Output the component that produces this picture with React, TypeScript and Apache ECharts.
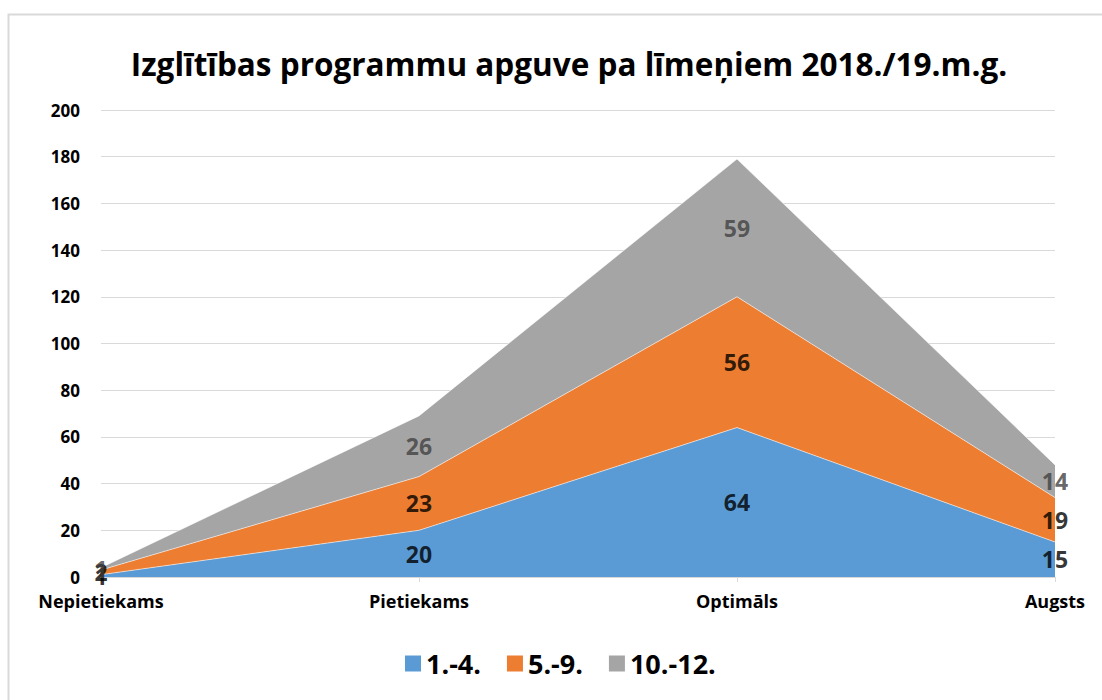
import React, { useEffect, useRef } from "react";
import * as echarts from "echarts";

const categories = ["Nepietiekams", "Pietiekams", "Optimāls", "Augsts"];
const seriesNames = ["1.-4.", "5.-9.", "10.-12."];
const grades1to4 = [1, 20, 64, 15];
const grades5to9 = [2, 23, 56, 19];
const grades10to12 = [1, 26, 59, 14];
const yTicks = [0, 20, 40, 60, 80, 100, 120, 140, 160, 180, 200];

const colors = ["#5b9bd5", "#ed7d31", "#a5a5a5"];
const labelColors = ["#000000", "#000000", "#404040"];
const FONT = "'Open Sans', 'Noto Sans', sans-serif";

export default function App() {
  const ref = useRef<HTMLDivElement>(null);
  useEffect(() => {
    if (!ref.current) return;
    const chart = echarts.init(ref.current, null, { renderer: "svg" });
    const data = [grades1to4, grades5to9, grades10to12];
    const areaSeries = data.map((d, i) => ({
      name: seriesNames[i],
      type: "line",
      stack: "total",
      data: d,
      symbol: "none",
      lineStyle: { width: 0.8, color: "#ffffff", opacity: 0.7 },
      areaStyle: { color: colors[i], opacity: 1 },
      itemStyle: { color: colors[i] },
      z: 2,
    }));
    const labelSeries = data.map((d, i) => ({
      name: seriesNames[i] + "_lbl",
      type: "scatter",
      symbolSize: 0,
      silent: true,
      z: 5,
      data: d.map((v, j) => {
        let below = 0;
        for (let k = 0; k < i; k++) below += data[k][j];
        return { value: [categories[j], below + v / 2], raw: v };
      }),
      label: {
        show: true,
        position: "inside",
        formatter: (p: any) => String(p.data.raw),
        color: labelColors[i],
        fontFamily: FONT,
        fontWeight: "bold",
        fontSize: 23,
      },
    }));
    chart.setOption({
      animation: false,
      backgroundColor: "#ffffff",
      color: colors,
      title: {
        text: "Izglītības programmu apguve pa līmeņiem 2018./19.m.g.",
        left: 564,
        textAlign: "center",
        top: 42,
        textStyle: { fontFamily: FONT, fontWeight: "bold", fontSize: 31.5, color: "#000" },
      },
      legend: {
        data: seriesNames,
        bottom: 18,
        left: 400,
        icon: "rect",
        itemWidth: 16,
        itemHeight: 16,
        itemGap: 26,
        textStyle: { fontFamily: FONT, fontWeight: "bold", fontSize: 27, color: "#000" },
      },
      grid: { left: 101, right: 47, top: 110, bottom: 123, containLabel: false },
      xAxis: {
        type: "category",
        data: categories,
        boundaryGap: false,
        axisLine: { lineStyle: { color: "#d9d9d9" } },
        axisTick: { show: true, length: 5, lineStyle: { color: "#d9d9d9" } },
        axisLabel: { fontFamily: FONT, fontWeight: "bold", fontSize: 18, color: "#000", margin: 15 },
      },
      yAxis: {
        type: "value",
        min: yTicks[0],
        max: yTicks[yTicks.length - 1],
        interval: 20,
        axisLine: { show: false },
        axisTick: { show: false },
        splitLine: { lineStyle: { color: "#d9d9d9" } },
        axisLabel: { fontFamily: FONT, fontWeight: "bold", fontSize: 17, color: "#000", margin: 21 },
      },
      graphic: [
        {
          type: "rect",
          shape: { x: 8.5, y: 14.5, width: 1200, height: 800 },
          style: { fill: "none", stroke: "#d9d9d9", lineWidth: 2 },
          silent: true,
        },
      ],
      series: [...areaSeries, ...labelSeries],
    });
    return () => chart.dispose();
  }, []);
  return (
    <div
      ref={ref}
      style={{ position: "absolute", left: 0, top: 0, width: 1102, height: 700 }}
    />
  );
}
